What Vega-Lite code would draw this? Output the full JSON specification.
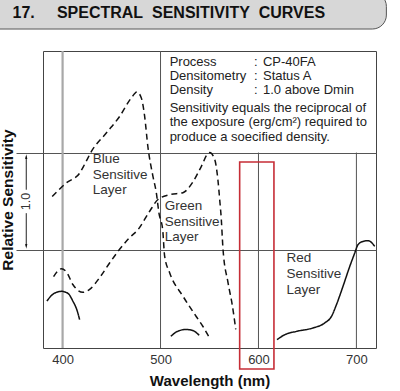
{
  "$schema": "https://vega.github.io/schema/vega-lite/v6.json",
  "width": 333,
  "height": 297,
  "autosize": "none",
  "padding": {"left": 43, "top": 51, "right": 24, "bottom": 43},
  "background": "white",
  "config": {
    "font": "Liberation Sans",
    "view": {"stroke": "#444", "strokeWidth": 1}
  },
  "datasets": {
    "curves": [
      {"s": "blue", "k": "dashed", "w": 389.4, "v": 1.55},
      {"s": "blue", "k": "dashed", "w": 403.8, "v": 1.69},
      {"s": "blue", "k": "dashed", "w": 417.4, "v": 1.79},
      {"s": "blue", "k": "dashed", "w": 422.5, "v": 1.88},
      {"s": "blue", "k": "dashed", "w": 429.3, "v": 2.01},
      {"s": "blue", "k": "dashed", "w": 444.6, "v": 2.2},
      {"s": "blue", "k": "dashed", "w": 458.2, "v": 2.37},
      {"s": "blue", "k": "dashed", "w": 470.2, "v": 2.56},
      {"s": "blue", "k": "dashed", "w": 475.9, "v": 2.62},
      {"s": "blue", "k": "dashed", "w": 480.4, "v": 2.56},
      {"s": "blue", "k": "dashed", "w": 483.8, "v": 2.37},
      {"s": "blue", "k": "dashed", "w": 487.1, "v": 2.06},
      {"s": "blue", "k": "dashed", "w": 492.2, "v": 1.76},
      {"s": "blue", "k": "dashed", "w": 495.7, "v": 1.59},
      {"s": "blue", "k": "dashed", "w": 498.4, "v": 1.38},
      {"s": "blue", "k": "dashed", "w": 502.2, "v": 1.21},
      {"s": "blue", "k": "dashed", "w": 504.2, "v": 0.94},
      {"s": "blue", "k": "dashed", "w": 509.3, "v": 0.77},
      {"s": "blue", "k": "dashed", "w": 522.9, "v": 0.53},
      {"s": "blue", "k": "dashed", "w": 536.6, "v": 0.32},
      {"s": "blue", "k": "dashed", "w": 543.3, "v": 0.22},
      {"s": "blue", "k": "dashed", "w": 550.2, "v": 0.1},
      {"s": "green", "k": "dashed", "w": 390.8, "v": 0.73},
      {"s": "green", "k": "dashed", "w": 395.2, "v": 0.79},
      {"s": "green", "k": "dashed", "w": 398.7, "v": 0.81},
      {"s": "green", "k": "dashed", "w": 403.8, "v": 0.78},
      {"s": "green", "k": "dashed", "w": 410.5, "v": 0.65},
      {"s": "green", "k": "dashed", "w": 415.6, "v": 0.59},
      {"s": "green", "k": "dashed", "w": 420.7, "v": 0.57},
      {"s": "green", "k": "dashed", "w": 427.6, "v": 0.6},
      {"s": "green", "k": "dashed", "w": 437.8, "v": 0.72},
      {"s": "green", "k": "dashed", "w": 448.0, "v": 0.87},
      {"s": "green", "k": "dashed", "w": 458.2, "v": 1.01},
      {"s": "green", "k": "dashed", "w": 468.4, "v": 1.13},
      {"s": "green", "k": "dashed", "w": 476.9, "v": 1.21},
      {"s": "green", "k": "dashed", "w": 488.9, "v": 1.4},
      {"s": "green", "k": "dashed", "w": 497.4, "v": 1.52},
      {"s": "green", "k": "dashed", "w": 509.3, "v": 1.57},
      {"s": "green", "k": "dashed", "w": 522.9, "v": 1.59},
      {"s": "green", "k": "dashed", "w": 533.1, "v": 1.7},
      {"s": "green", "k": "dashed", "w": 541.7, "v": 1.86},
      {"s": "green", "k": "dashed", "w": 548.4, "v": 1.99},
      {"s": "green", "k": "dashed", "w": 550.2, "v": 2.0},
      {"s": "green", "k": "dashed", "w": 555.3, "v": 1.93},
      {"s": "green", "k": "dashed", "w": 558.6, "v": 1.72},
      {"s": "green", "k": "dashed", "w": 560.4, "v": 1.52},
      {"s": "green", "k": "dashed", "w": 562.1, "v": 1.31},
      {"s": "green", "k": "dashed", "w": 563.2, "v": 1.11},
      {"s": "green", "k": "dashed", "w": 563.8, "v": 1.01},
      {"s": "green", "k": "dashed", "w": 568.9, "v": 0.67},
      {"s": "green", "k": "dashed", "w": 573.4, "v": 0.43},
      {"s": "green", "k": "dashed", "w": 576.8, "v": 0.19},
      {"s": "arc400", "k": "solid", "w": 384.0, "v": 0.48},
      {"s": "arc400", "k": "solid", "w": 390.1, "v": 0.55},
      {"s": "arc400", "k": "solid", "w": 398.7, "v": 0.58},
      {"s": "arc400", "k": "solid", "w": 405.4, "v": 0.56},
      {"s": "arc400", "k": "solid", "w": 410.5, "v": 0.48},
      {"s": "arc400", "k": "solid", "w": 414.6, "v": 0.39},
      {"s": "arc400", "k": "solid", "w": 417.4, "v": 0.29},
      {"s": "arc520", "k": "solid", "w": 510.5, "v": 0.12},
      {"s": "arc520", "k": "solid", "w": 517.3, "v": 0.17},
      {"s": "arc520", "k": "solid", "w": 525.9, "v": 0.19},
      {"s": "arc520", "k": "solid", "w": 532.7, "v": 0.18},
      {"s": "arc520", "k": "solid", "w": 539.5, "v": 0.13},
      {"s": "red", "k": "solid", "w": 618.9, "v": 0.085},
      {"s": "red", "k": "solid", "w": 626.8, "v": 0.136},
      {"s": "red", "k": "solid", "w": 638.7, "v": 0.17},
      {"s": "red", "k": "solid", "w": 655.7, "v": 0.205},
      {"s": "red", "k": "solid", "w": 667.6, "v": 0.256},
      {"s": "red", "k": "solid", "w": 674.5, "v": 0.323},
      {"s": "red", "k": "solid", "w": 679.6, "v": 0.443},
      {"s": "red", "k": "solid", "w": 686.3, "v": 0.631},
      {"s": "red", "k": "solid", "w": 693.2, "v": 0.835},
      {"s": "red", "k": "solid", "w": 698.3, "v": 0.972},
      {"s": "red", "k": "solid", "w": 701.6, "v": 1.057},
      {"s": "red", "k": "solid", "w": 706.7, "v": 1.091},
      {"s": "red", "k": "solid", "w": 711.8, "v": 1.098},
      {"s": "red", "k": "solid", "w": 715.3, "v": 1.081},
      {"s": "red", "k": "solid", "w": 718.7, "v": 1.04}
    ],
    "notes": [
      {"t": "Process", "w": 509.3, "v": 2.93},
      {"t": ":", "w": 595.4, "v": 2.93},
      {"t": "CP-40FA", "w": 604.6, "v": 2.93},
      {"t": "Densitometry", "w": 509.3, "v": 2.787},
      {"t": ":", "w": 595.4, "v": 2.787},
      {"t": "Status A", "w": 604.6, "v": 2.787},
      {"t": "Density", "w": 509.3, "v": 2.637},
      {"t": ":", "w": 595.4, "v": 2.637},
      {"t": "1.0 above Dmin", "w": 604.6, "v": 2.637},
      {"t": "Sensitivity equals the reciprocal of", "w": 509.3, "v": 2.457},
      {"t": "the exposure (erg/cm²) required to", "w": 509.3, "v": 2.309},
      {"t": "produce a soecified density.", "w": 509.3, "v": 2.16}
    ],
    "layers": [
      {"t": "Blue", "w": 430.9, "v": 1.934},
      {"t": "Sensitive", "w": 430.9, "v": 1.774},
      {"t": "Layer", "w": 430.9, "v": 1.613},
      {"t": "Green", "w": 504.2, "v": 1.449},
      {"t": "Sensitive", "w": 504.2, "v": 1.29},
      {"t": "Layer", "w": 504.2, "v": 1.132},
      {"t": "Red", "w": 628.5, "v": 0.921},
      {"t": "Sensitive", "w": 628.5, "v": 0.76},
      {"t": "Layer", "w": 628.5, "v": 0.597}
    ],
    "banner": [{"w": 300, "w2": 730.6, "v": 3.64, "v2": 3.265}],
    "heading": [
      {"t": "17.", "w": 348.9, "v": 3.43},
      {"t": "SPECTRAL\u00a0 SENSITIVITY\u00a0 CURVES", "w": 394.2, "v": 3.43}
    ],
    "grid": [
      {"w": 500, "v": 0, "v2": 3.04},
      {"w": 600, "v": 0, "v2": 2.0},
      {"w": 700, "v": 0, "v2": 2.0}
    ],
    "grid400": [{"w": 400, "v": 0, "v2": 3.04}],
    "box": [{"w": 580.8, "w2": 615.8, "v": 1.904, "v2": -0.215}],
    "arrowlines": [
      {"w": 362.9, "v": 1.96, "v2": 1.62},
      {"w": 362.9, "v": 1.38, "v2": 1.04}
    ],
    "arrowheads": [
      {"w": 362.9, "v": 1.955, "dir": "up"},
      {"w": 362.9, "v": 1.045, "dir": "down"}
    ],
    "unit": [{"t": "1.0", "w": 362.9, "v": 1.5}]
  },
  "encoding": {
    "x": {
      "field": "w", "type": "quantitative",
      "scale": {"domain": [380, 720], "nice": false, "zero": false},
      "axis": {
        "values": [400, 500, 600, 700], "ticks": false, "domain": false, "grid": false,
        "labelFontSize": 13, "labelColor": "#333", "labelPadding": 5,
        "title": "Wavelength (nm)", "titleFontSize": 15, "titleFontWeight": "bold", "titleColor": "#111", "titlePadding": 7
      }
    },
    "y": {
      "field": "v", "type": "quantitative",
      "scale": {"domain": [0, 3.04], "nice": false, "zero": false},
      "axis": {
        "values": [1, 2], "labels": false, "domain": false, "ticks": true, "tickSize": 27, "tickColor": "#555",
        "grid": true, "gridColor": "#555", "gridOpacity": 1, "gridWidth": 1,
        "title": "Relative Sensitivity", "titleFontSize": 15.5, "titleFontWeight": "bold", "titleColor": "#111", "titlePadding": 0
      }
    }
  },
  "layer": [
    {
      "data": {"name": "banner"},
      "mark": {"type": "rect", "fill": "#d7d7d7", "stroke": "#555", "strokeWidth": 1, "cornerRadius": 14},
      "encoding": {"x2": {"field": "w2"}, "y2": {"field": "v2"}}
    },
    {
      "data": {"name": "heading"},
      "mark": {"type": "text", "align": "left", "baseline": "middle", "fontSize": 16, "fontWeight": "bold", "color": "#111"},
      "encoding": {"text": {"field": "t"}}
    },
    {
      "data": {"name": "grid"},
      "mark": {"type": "rule", "color": "#555", "strokeWidth": 1},
      "encoding": {"y2": {"field": "v2"}}
    },
    {
      "data": {"name": "grid400"},
      "mark": {"type": "rule", "color": "#a8a8a8", "strokeWidth": 2.2},
      "encoding": {"y2": {"field": "v2"}}
    },
    {
      "data": {"name": "curves"},
      "mark": {"type": "line", "color": "#111", "strokeWidth": 1.5, "interpolate": "monotone"},
      "encoding": {
        "detail": {"field": "s"},
        "strokeDash": {"field": "k", "type": "nominal", "scale": {"domain": ["dashed", "solid"], "range": [[6, 4], [1, 0]]}, "legend": null}
      }
    },
    {
      "data": {"name": "notes"},
      "mark": {"type": "text", "align": "left", "baseline": "middle", "fontSize": 13, "color": "#222"},
      "encoding": {"text": {"field": "t"}}
    },
    {
      "data": {"name": "layers"},
      "mark": {"type": "text", "align": "left", "baseline": "middle", "fontSize": 13.5, "color": "#333"},
      "encoding": {"text": {"field": "t"}}
    },
    {
      "data": {"name": "box"},
      "mark": {"type": "rect", "filled": false, "stroke": "#c62d36", "strokeWidth": 1.6},
      "encoding": {"x2": {"field": "w2"}, "y2": {"field": "v2"}}
    },
    {
      "data": {"name": "arrowlines"},
      "mark": {"type": "rule", "color": "#222", "strokeWidth": 1},
      "encoding": {"y2": {"field": "v2"}}
    },
    {
      "data": {"name": "arrowheads"},
      "mark": {"type": "point", "filled": true, "color": "#111", "opacity": 1, "size": 30},
      "encoding": {
        "shape": {"field": "dir", "type": "nominal", "scale": {"domain": ["up", "down"], "range": ["M0,-1L0.4,0.7L-0.4,0.7Z", "M0,1L0.4,-0.7L-0.4,-0.7Z"]}, "legend": null}
      }
    },
    {
      "data": {"name": "unit"},
      "mark": {"type": "text", "align": "center", "baseline": "middle", "angle": 270, "fontSize": 12.5, "color": "#333"},
      "encoding": {"text": {"field": "t"}}
    }
  ]
}
